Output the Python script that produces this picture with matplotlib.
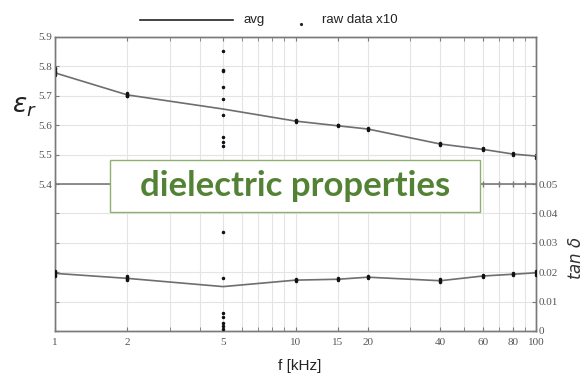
import matplotlib.pyplot as plt
from matplotlib.lines import Line2D
from matplotlib.patches import Rectangle
from matplotlib.ticker import FixedLocator, NullFormatter

# frequencies (kHz)
freq = [1, 2, 5, 10, 15, 20, 40, 60, 80, 100]
freq_minor = [3, 4, 6, 7, 8, 9, 30, 50, 70, 90]

# averages
eps_avg = [5.778, 5.703, 5.655, 5.614, 5.598, 5.587, 5.536, 5.518, 5.502, 5.495]
tan_avg = [0.0196, 0.0179, 0.0151, 0.0173, 0.0176, 0.0183, 0.0171, 0.0187, 0.0193, 0.0198]

# raw data (eps_r)
raw_eps_f = [1]*6 + [2]*5 + [5]*9 + [10]*3 + [15]*3 + [20]*3 + [40]*3 + [60]*3 + [80]*3 + [100]*3
raw_eps = [5.771, 5.776, 5.780, 5.784, 5.790, 5.795,
           5.698, 5.701, 5.704, 5.707, 5.710,
           5.853, 5.788, 5.785, 5.731, 5.688, 5.635, 5.559, 5.544, 5.529,
           5.610, 5.613, 5.616,
           5.596, 5.599, 5.602,
           5.584, 5.587, 5.590,
           5.532, 5.536, 5.540,
           5.515, 5.518, 5.521,
           5.498, 5.502, 5.506,
           5.490, 5.495, 5.500]

# raw data (tan delta)
raw_tan_f = [1]*5 + [2]*5 + [5]*7 + [10]*3 + [15]*3 + [20]*3 + [40]*3 + [60]*3 + [80]*3 + [100]*3
raw_tan = [0.0188, 0.0192, 0.0196, 0.0200, 0.0205,
           0.0172, 0.0176, 0.0180, 0.0184, 0.0188,
           0.0338, 0.0181, 0.0060, 0.0049, 0.0027, 0.0017, 0.0007,
           0.0170, 0.0173, 0.0176,
           0.0173, 0.0176, 0.0179,
           0.0180, 0.0183, 0.0186,
           0.0166, 0.0171, 0.0176,
           0.0183, 0.0187, 0.0191,
           0.0189, 0.0193, 0.0197,
           0.0192, 0.0198, 0.0204]

eps_ticks = [round(4.9 + 0.1*i, 1) for i in range(11)]
eps_labels = ['' if v < 5.4 else '%.1f' % v for v in eps_ticks]
tan_ticks = [round(0.01*i, 2) for i in range(10)]
tan_labels = ['0' if v == 0 else ('%.2f' % v if v <= 0.05 else '') for v in tan_ticks]

gray = '#7a7a7a'
serif = 'Liberation Serif'

fig = plt.figure(figsize=(5.86, 3.76), dpi=100)
ax = fig.add_axes([55/586, 45/376, 481/586, 294/376])
ax2 = ax.twinx()

ax.set_xscale('log')
ax.set_xlim(1, 100)
ax.set_ylim(4.9, 5.9)
ax2.set_ylim(0, 0.1)

ax.xaxis.set_major_locator(FixedLocator(freq))
ax.xaxis.set_minor_locator(FixedLocator(freq_minor))
ax.set_xticklabels([str(f) for f in freq], fontfamily=serif, fontsize=8, color='#555555')
ax.xaxis.set_minor_formatter(NullFormatter())
ax.set_yticks(eps_ticks)
ax.set_yticklabels(eps_labels, fontfamily=serif, fontsize=8, color='#555555')
ax2.set_yticks(tan_ticks)
ax2.set_yticklabels(tan_labels, fontfamily=serif, fontsize=8, color='#555555')

ax.grid(True, which='both', color='#e4e4e4', lw=0.8)
for a in (ax, ax2):
    a.tick_params(which='both', direction='in', length=3, color=gray, pad=2)
    for s in a.spines.values():
        s.set_color(gray)
        s.set_linewidth(1.0)
ax.tick_params(axis='x', which='both', top=True, pad=5)

# separator line between panels
ax.axhline(5.4, color=gray, lw=1.2, zorder=2)
ax.plot(freq + freq_minor, [5.4]*20, ls='none', marker='|', ms=4, color=gray, zorder=2)

# avg lines
ax.plot(freq, eps_avg, color='#6e6e6e', lw=1.2, zorder=3)
ax2.plot(freq, tan_avg, color='#6e6e6e', lw=1.2, zorder=3)

# raw points
ax.plot(raw_eps_f, raw_eps, ls='none', marker='.', ms=3, color='#111111', zorder=4)
ax2.plot(raw_tan_f, raw_tan, ls='none', marker='.', ms=3, color='#111111', zorder=4)

ax.set_ylabel(r'$\varepsilon_r$', fontsize=19, rotation=0, color='#222222',
              ha='right', va='center')
ax.yaxis.set_label_coords(-0.038, 0.765)
ax2.set_ylabel(r'$tan\ \delta$', fontsize=12, rotation=90, color='#333333')
ax2.yaxis.set_label_coords(1.065, 0.25)
fig.text(0.512, 0.027, 'f [kHz]', fontsize=11, ha='center', va='center',
         fontfamily='Liberation Sans', color='#222222')

# legend
fig.lines.append(Line2D([140/586, 233/586], [0.947, 0.947], color='#222222', lw=1.2,
                        transform=fig.transFigure))
fig.text(243/586, 0.947, 'avg', fontsize=9.5, va='center', fontfamily='Liberation Sans', color='#222222')
fig.lines.append(Line2D([301/586], [1 - 24/376], ls='none', marker='.', ms=2.5, color='#222222',
                        transform=fig.transFigure))
fig.text(322/586, 0.947, 'raw data x10', fontsize=9.5, va='center', fontfamily='Liberation Sans',
         color='#222222')

# title box
ax2.add_patch(Rectangle((0.114, 0.405), 0.77, 0.177, transform=ax2.transAxes,
                        facecolor='white', edgecolor='#8fb070', lw=1.0, zorder=10))
ax2.text(0.499, 0.492, 'dielectric properties', transform=ax2.transAxes, ha='center',
         va='center', fontsize=25, fontweight='bold', fontfamily='Lato', color='#548235',
         zorder=11)

fig.savefig('out.png', dpi=100)
